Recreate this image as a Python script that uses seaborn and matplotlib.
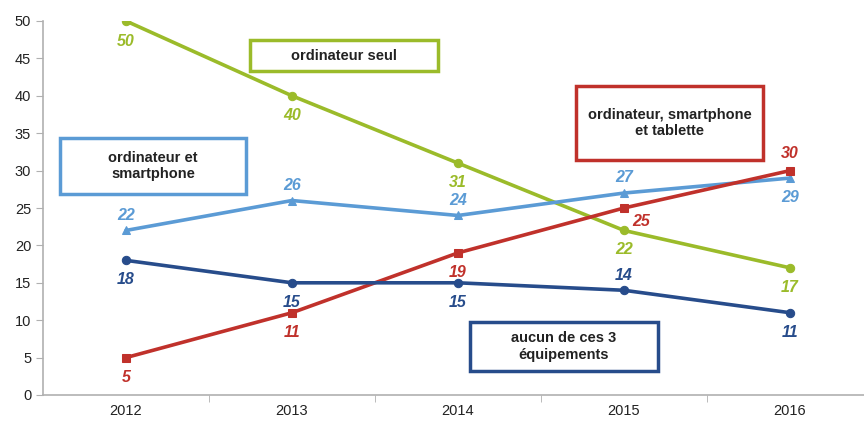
import pandas as pd
import matplotlib.pyplot as plt
import seaborn as sns
from matplotlib.patches import Rectangle

# === Data ===
years = ["2012", "2013", "2014", "2015", "2016"]
ordi_seul = [50, 40, 31, 22, 17]
ordi_smart = [22, 26, 24, 27, 29]
ordi_smart_tab = [5, 11, 19, 25, 30]
aucun = [18, 15, 15, 14, 11]

series_names = ["ordinateur seul", "ordinateur et\nsmartphone",
                "ordinateur, smartphone\net tablette", "aucun de ces 3\néquipements"]
series_values = [ordi_seul, ordi_smart, ordi_smart_tab, aucun]
colors = ["#9bbb2a", "#5b9bd5", "#c0312b", "#274c8b"]
markers = ["o", "^", "s", "o"]

# label placement per point: (dx, dy) in points
offsets = [
    [(0, -15), (0, -14), (0, -14), (0, -14), (0, -14)],
    [(0, 11), (0, 11), (0, 11), (0, 11), (0, -14)],
    [(0, -14), (0, -14), (0, -14), (12, -10), (0, 12)],
    [(0, -14), (0, -14), (0, -14), (0, 11), (0, -14)],
]

sns.set_style("white")
plt.rcParams["font.family"] = ["Liberation Sans", "DejaVu Sans"]

fig = plt.figure(figsize=(8.64, 4.21), dpi=100)
ax = fig.add_axes([43 / 864, 26 / 421, 1 - 43 / 864, (395 - 21) / 421])

for name, vals, col, mk, offs in zip(series_names, series_values, colors, markers, offsets):
    df = pd.DataFrame({"annee": years, "val": vals})
    sns.lineplot(data=df, x="annee", y="val", ax=ax, color=col, linewidth=2.6,
                 marker=mk, markersize=6, markeredgecolor=col, sort=False)
    for i, v in enumerate(vals):
        ax.annotate(str(v), (i, v), xytext=offs[i], textcoords="offset points",
                    ha="center", va="center", color=col, fontsize=11.5,
                    fontweight="bold", fontstyle="italic")

ax.set_xlim(-0.5, 4.446)
ax.set_ylim(0, 50)
ax.set_yticks(range(0, 51, 5))
ax.set_xlabel("")
ax.set_ylabel("")

for s in ["top", "right"]:
    ax.spines[s].set_visible(False)
for s in ["left", "bottom"]:
    ax.spines[s].set_color("#b0b0b0")
    ax.spines[s].set_linewidth(1.2)

ax.tick_params(axis="y", which="major", left=True, length=5, color="#b0b0b0",
               labelsize=10.5, labelcolor="#222222")
ax.tick_params(axis="x", which="major", bottom=False, labelsize=10.5,
               labelcolor="#222222", pad=3)
ax.set_xticks([0.5, 1.5, 2.5, 3.5], minor=True)
ax.tick_params(axis="x", which="minor", bottom=True, length=5, color="#b0b0b0")

# === Series boxes ===
boxes = [
    (250, 40, 188, 31, series_names[0], colors[0]),
    (60, 138, 186, 56, series_names[1], colors[1]),
    (576, 86, 187, 74, series_names[2], colors[2]),
    (470, 322, 188, 49, series_names[3], colors[3]),
]
for x0, y0, w, h, txt, col in boxes:
    fx, fy = x0 / 864, 1 - (y0 + h) / 421
    fw, fh = w / 864, h / 421
    fig.patches.append(Rectangle((fx, fy), fw, fh, transform=fig.transFigure,
                                 facecolor="white", edgecolor=col, linewidth=2.5,
                                 zorder=5))
    fig.text(fx + fw / 2, fy + fh / 2, txt, ha="center", va="center",
             fontsize=10.5, fontweight="bold", color="#222222", zorder=6,
             linespacing=1.2)

fig.savefig("out.png", dpi=100)
